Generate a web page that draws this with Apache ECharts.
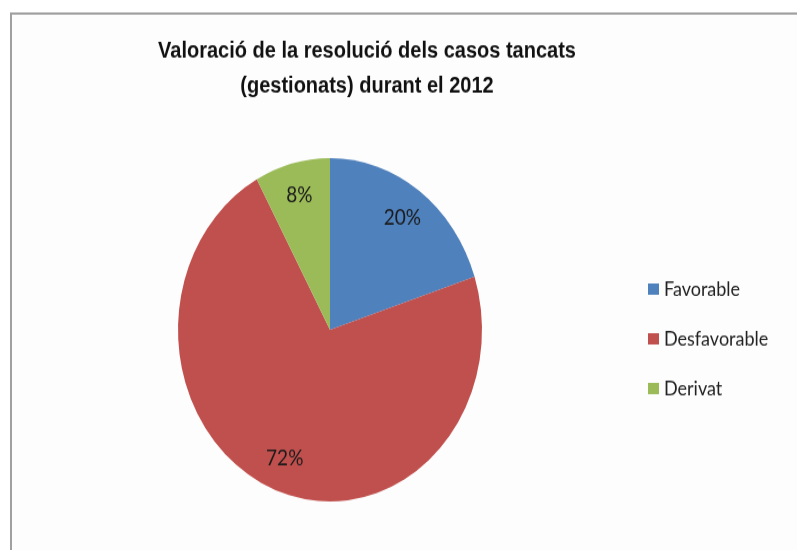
<!DOCTYPE html>
<html>
<head>
<meta charset="utf-8">
<script src="https://cdn.jsdelivr.net/npm/echarts@6/dist/echarts.min.js"></script>
<style>
  html, body { margin: 0; padding: 0; width: 797px; height: 550px; background: #fff; overflow: hidden; }
  #wrap { width: 797px; height: 550px; position: relative; }
  /* the original picture is stretched vertically, so the whole chart is too */
  #chart { position: absolute; left: 0; top: 0; width: 797px; height: 487px; transform: scaleY(1.1294); transform-origin: 0 0; }
</style>
</head>
<body>
<div id="wrap"><div id="chart"></div></div>
<script>
const categories = ["Favorable", "Desfavorable", "Derivat"];
const values = [20, 72, 8];
const colors = ["#4F81BD", "#C0504D", "#9BBB59"];

const pieData = categories.map((name, i) => ({ name: name, value: values[i] }));

const chart = echarts.init(document.getElementById("chart"));

const option = {
  animation: false,
  color: colors,
  title: {
    text: "Valoració de la resolució dels casos tancats\n(gestionats) durant el 2012",
    left: 362,
    top: 25,
    textAlign: "center",
    textStyle: {
      fontFamily: "Liberation Sans",
      fontSize: 20,
      fontWeight: "bold",
      lineHeight: 31,
      color: "#111"
    }
  },
  legend: {
    orient: "vertical",
    left: 643,
    top: 242,
    icon: "rect",
    itemWidth: 11,
    itemHeight: 10,
    itemGap: 26,
    data: categories,
    textStyle: {
      fontFamily: "Lato",
      fontSize: 18,
      lineHeight: 18,
      color: "#222"
    }
  },
  graphic: [
    {
      type: "rect",
      shape: { x: 11, y: 12, width: 820, height: 600 },
      style: { fill: "#fdfdfd", stroke: "#a0a0a0", lineWidth: 2 },
      z: -10
    }
  ],
  series: [
    {
      name: "Valoració",
      type: "pie",
      center: [330, 292],
      radius: [0, 152],
      startAngle: 90,
      clockwise: true,
      label: { show: false },
      labelLine: { show: false },
      data: pieData
    },
    {
      // invisible copy, only used to push the percentage labels outward
      name: "labels",
      type: "pie",
      center: [330, 292],
      radius: [0, 240],
      startAngle: 90,
      clockwise: true,
      silent: true,
      itemStyle: { color: "transparent" },
      label: {
        show: true,
        position: "inside",
        formatter: "{d}%",
        fontFamily: "Lato",
        fontSize: 19,
        color: "#1a1a1a"
      },
      labelLine: { show: false },
      data: pieData
    }
  ]
};

chart.setOption(option);
</script>
</body>
</html>
